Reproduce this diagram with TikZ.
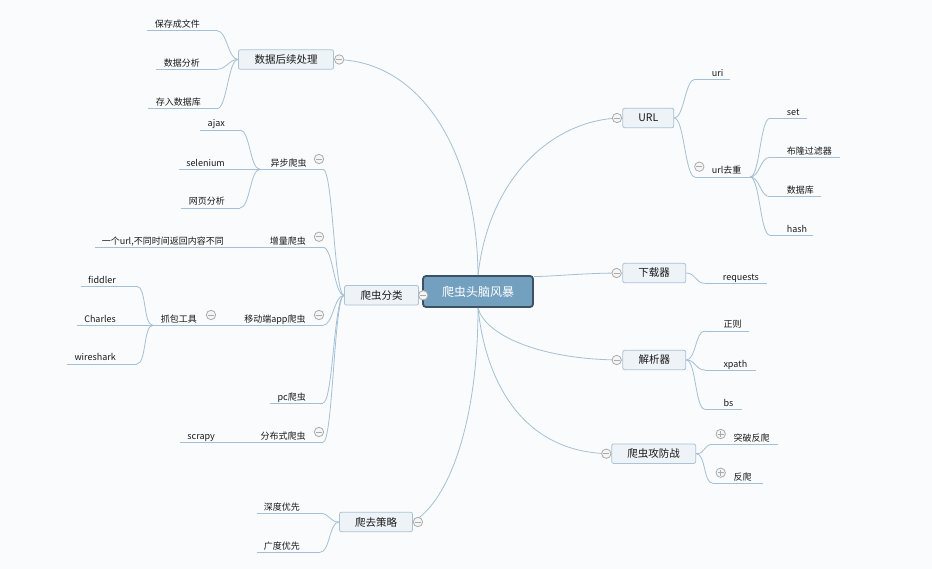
\documentclass[tikz,border=0pt]{standalone}
\usepackage{fontspec}
\setmainfont{Noto Sans CJK SC}
\usepackage{tikz}
\usetikzlibrary{calc}
\definecolor{paper}{HTML}{FAFBFC}
\definecolor{linec}{HTML}{A3C0D6}
\definecolor{topicfill}{HTML}{73A0BE}
\definecolor{topicline}{HTML}{3C5264}
\definecolor{boxfill}{HTML}{EEF3F7}
\definecolor{boxline}{HTML}{AAC3D7}
\definecolor{foldc}{HTML}{ABABAB}
\definecolor{foldbg}{HTML}{F5F5F5}
\tikzset{
	link/.style={draw=linec, line width=0.8pt},
	swing/.style={out=0, in=180, out distance=10pt, in distance=10pt},
	topic/.style={draw=topicline, fill=topicfill, line width=1.8pt, rounded corners=3pt, minimum width=110pt, minimum height=31pt, inner sep=0pt, text=white, font=\fontsize{12}{14}\selectfont},
	branch/.style={draw=boxline, fill=boxfill, line width=0.8pt, rounded corners=2pt, minimum height=19.5pt, inner sep=0pt, text=black!90, font=\fontsize{10.5}{12}\selectfont},
	leaf/.style={inner sep=0pt, text=black!90, font=\fontsize{9}{11}\selectfont},
	foldmark/.style={draw=foldc, line width=0.8pt}
}
% collapse marks
\def\fold#1{\draw[foldmark, fill=foldbg] (#1) circle (4.7); \draw[foldmark] (#1) ++(-3,0) -- ++(6,0);}
\def\unfold#1{\fold{#1} \draw[foldmark] (#1) ++(0,-3) -- ++(0,6);}
% underlined labels: name (line from, line to, line y) text edge, text
\def\lleaf#1(#2,#3,#4)#5#6{\coordinate (#1-a) at (#2,#4); \coordinate (#1-b) at (#3,#4); \draw[link] (#1-a) -- (#1-b); \node[leaf, anchor=base east] (#1) at (#5,#4-3) {#6};}
\def\rleaf#1(#2,#3,#4)#5#6{\coordinate (#1-a) at (#2,#4); \coordinate (#1-b) at (#3,#4); \draw[link] (#1-a) -- (#1-b); \node[leaf, anchor=base west] (#1) at (#5,#4-3) {#6};}

\begin{document}
\begin{tikzpicture}[x=1pt, y=-1pt]
	%%%%% START %%%%%
	
	\useasboundingbox (0,0) rectangle (932,569);
	\fill[paper] (0,0) rectangle (932,569);
	
	\node[topic] (topic) at (478,291.5) {爬虫头脑风暴};
	
	\node[branch, minimum width=95pt] (post) at (286,59.5) {数据后续处理};
	\node[branch, minimum width=74pt] (cat) at (381.5,295.3) {爬虫分类};
	\node[branch, minimum width=73pt] (strat) at (376,522) {爬去策略};
	\node[branch, minimum width=51pt] (url) at (648.3,118) {URL};
	\node[branch, minimum width=63pt] (dl) at (654.2,273) {下载器};
	\node[branch, minimum width=63pt] (parse) at (654.3,360) {解析器};
	\node[branch, minimum width=84pt] (war) at (653.7,453.7) {爬虫攻防战};
	
	% main branches
	\draw[link] (topic.north) .. controls (477,150) and (420,59.5) .. (post.east);
	\draw[link] (topic.north) .. controls (490,170) and (560,118) .. (url.west);
	\draw[link] ([yshift=-1.5pt]topic.north east) .. controls (560,276) and (585,273) .. (dl.west);
	\draw[link] (topic.south) .. controls (485,335) and (540,360) .. (parse.west);
	\draw[link] (topic.south) .. controls (486,385) and (525,453.7) .. (war.west);
	\draw[link] (topic.south) .. controls (478,420) and (450,500) .. (strat.east);
	
	% left side
	\lleaf{save}(147,217,30.7){200}{保存成文件}
	\lleaf{anal}(156,217,69.3){200}{数据分析}
	\lleaf{store}(148,217,108.7){201}{存入数据库}
	\draw[link] (save-b) to[swing] (post.west);
	\draw[link] (anal-b) to[swing] (post.west);
	\draw[link] (store-b) to[swing] (post.west);
	
	\lleaf{async}(260,323,169.3){306.7}{异步爬虫}
	\lleaf{ajax}(200,240,130){225}{ajax}
	\lleaf{sel}(179,240,169.3){225}{selenium}
	\lleaf{web}(181,240,208){225}{网页分析}
	\draw[link] (ajax-b) to[swing] (async-a);
	\draw[link] (sel-b) to[swing] (async-a);
	\draw[link] (web-b) to[swing] (async-a);
	
	\lleaf{incr}(260,323,247.3){306}{增量爬虫}
	\lleaf{same}(95,240,247.3){224}{一个url,不同时间返回内容不同}
	\draw[link] (same-b) to[swing] (incr-a);
	
	\lleaf{mobile}(234,323,325.3){305.7}{移动端app爬虫}
	\lleaf{capture}(153,214,325.3){197}{抓包工具}
	\draw[link] (capture-b) to[swing] (mobile-a);
	\lleaf{fiddler}(80.7,136.7,286.3){116}{fiddler}
	\lleaf{charles}(76.7,136.7,325.3){116}{Charles}
	\lleaf{wire}(67,136.7,364){116}{wireshark}
	\draw[link] (fiddler-b) to[swing] (capture-a);
	\draw[link] (charles-b) to[swing] (capture-a);
	\draw[link] (wire-b) to[swing] (capture-a);
	
	\lleaf{pc}(270,323,403){306}{pc爬虫}
	\lleaf{dist}(252,323,442.3){305.7}{分布式爬虫}
	\lleaf{scrapy}(180,232,442.3){215}{scrapy}
	\draw[link] (scrapy-b) to[swing] (dist-a);
	
	\draw[link] (async-b) to[swing] (cat.west);
	\draw[link] (incr-b) to[swing] (cat.west);
	\draw[link] (mobile-b) to[swing] (cat.west);
	\draw[link] (pc-b) to[swing] (cat.west);
	\draw[link] (dist-b) to[swing] (cat.west);
	
	\lleaf{deep}(256.7,320,513.3){300}{深度优先}
	\lleaf{broad}(256.7,320,552.3){300}{广度优先}
	\draw[link] (deep-b) to[swing] (strat.west);
	\draw[link] (broad-b) to[swing] (strat.west);
	
	% right side
	\rleaf{uri}(695,730,79.3){711.7}{uri}
	\rleaf{dedup}(695,750,177){711.7}{url去重}
	\draw[link] (url.east) to[swing] (uri-a);
	\draw[link] (url.east) to[swing] (dedup-a);
	
	\rleaf{set}(770,806.7,118.3){786.7}{set}
	\rleaf{bloom}(770,840,157.3){786.7}{布隆过滤器}
	\rleaf{db}(770,820.7,196.7){786.7}{数据库}
	\rleaf{hash}(770,813.3,235.3){786.7}{hash}
	\draw[link] (dedup-b) to[swing] (set-a);
	\draw[link] (dedup-b) to[swing] (bloom-a);
	\draw[link] (dedup-b) to[swing] (db-a);
	\draw[link] (dedup-b) to[swing] (hash-a);
	
	\rleaf{req}(705,766.7,283.3){722.7}{requests}
	\draw[link] (dl.east) to[swing] (req-a);
	
	\rleaf{regex}(705,749.3,331){723.3}{正则}
	\rleaf{xpath}(705,756,370){723.3}{xpath}
	\rleaf{bs}(705,741.7,409.3){723.3}{bs}
	\draw[link] (parse.east) to[swing] (regex-a);
	\draw[link] (parse.east) to[swing] (xpath-a);
	\draw[link] (parse.east) to[swing] (bs-a);
	
	\rleaf{break}(713,778,444.3){733.3}{突破反爬}
	\rleaf{anti}(713,763.3,483.3){733.3}{反爬}
	\draw[link] (war.east) to[swing] (break-a);
	\draw[link] (war.east) to[swing] (anti-a);
	
	% fold marks
	\fold{$(post.east)+(5.3,0)$}
	\fold{$(cat.east)+(4.3,0)$}
	\fold{$(strat.east)+(5,0)$}
	\fold{$(url.west)+(-5.4,0)$}
	\fold{$(dl.west)+(-5.7,0)$}
	\fold{$(parse.west)+(-5.7,0)$}
	\fold{$(war.west)+(-5,0)$}
	\fold{$(async-b)+(-4,-10.3)$}
	\fold{$(incr-b)+(-4,-10.5)$}
	\fold{$(mobile-b)+(-4,-10.3)$}
	\fold{$(capture-b)+(-3,-10.3)$}
	\fold{$(dist-b)+(-4,-10.3)$}
	\fold{$(dedup-a)+(4.3,-10.3)$}
	\unfold{$(break-a)+(7.7,-10.3)$}
	\unfold{$(anti-a)+(7.7,-10.6)$}
	
	%%%%% END %%%%%
\end{tikzpicture}
\end{document}
